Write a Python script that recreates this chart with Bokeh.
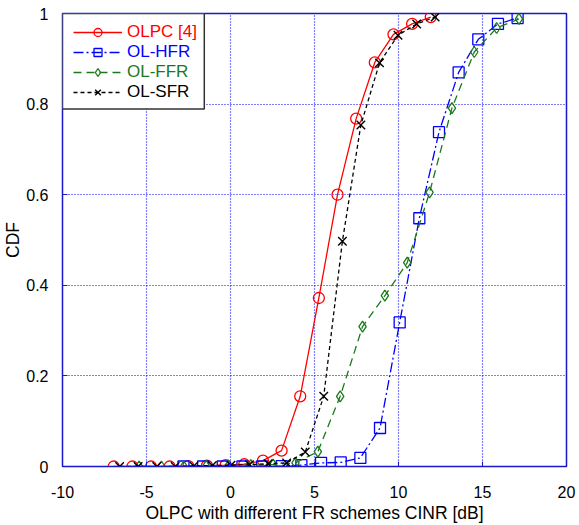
from bokeh.plotting import figure
from bokeh.models import (FixedTicker, Legend, LegendItem, BoxAnnotation, Range1d)
from bokeh.embed import file_html
from bokeh.resources import INLINE

# ---- data ----
olpc_x = [-6.95, -5.84, -4.73, -3.62, -2.51, -1.40, -0.29, 0.82, 1.93, 3.04,
          4.15, 5.26, 6.37, 7.48, 8.59, 9.70, 10.81, 11.92]
olpc_y = [0.0, 0.0, 0.0, 0.0, 0.001, 0.002, 0.003, 0.005, 0.013, 0.035,
          0.155, 0.372, 0.600, 0.768, 0.892, 0.954, 0.977, 0.992]

hfr_x = [-2.80, -1.63, -0.46, 0.71, 1.88, 3.05, 4.22, 5.39, 6.56, 7.73,
         8.90, 10.07, 11.24, 12.41, 13.58, 14.75, 15.92, 17.09]
hfr_y = [0.0, 0.0, 0.0, 0.0, 0.0, 0.001, 0.003, 0.008, 0.009, 0.019,
         0.085, 0.318, 0.548, 0.738, 0.870, 0.943, 0.977, 0.990]

ffr_x = [-5.44, -4.11, -2.78, -1.45, -0.12, 1.21, 2.54, 3.87, 5.20, 6.53,
         7.86, 9.19, 10.52, 11.85, 13.18, 14.51, 15.84, 17.17]
ffr_y = [0.0, 0.0, 0.0, 0.001, 0.002, 0.003, 0.004, 0.008, 0.033, 0.155,
         0.309, 0.377, 0.450, 0.605, 0.791, 0.915, 0.968, 0.988]

sfr_x = [-6.60, -5.50, -4.39, -3.29, -2.18, -1.08, 0.03, 1.13, 2.24, 3.34,
         4.45, 5.55, 6.66, 7.76, 8.87, 9.97, 11.08, 12.18]
sfr_y = [0.0, 0.0, 0.0, 0.0, 0.001, 0.002, 0.003, 0.004, 0.006, 0.008,
         0.032, 0.155, 0.497, 0.754, 0.891, 0.952, 0.977, 0.992]

x_ticks = [-10, -5, 0, 5, 10, 15, 20]
x_tick_labels = ["-10", "-5", "0", "5", "10", "15", "20"]
y_ticks = [0, 0.2, 0.4, 0.6, 0.8, 1]
y_tick_labels = ["0", "0.2", "0.4", "0.6", "0.8", "1"]

series_names = ["OLPC [4]", "OL-HFR", "OL-FFR", "OL-SFR"]

FONT = "Liberation Sans"

p = figure(width=579, height=525, output_backend="svg", toolbar_location=None,
           x_range=Range1d(-10, 20), y_range=Range1d(0, 1),
           min_border_left=61, min_border_right=13, min_border_top=13,
           min_border_bottom=58)
p.background_fill_color = "white"
p.border_fill_color = "white"
p.outline_line_color = "#1818c8"
p.outline_line_width = 1.5

for ax in (p.xaxis[0], p.yaxis[0]):
    ax.axis_line_color = "#1818c8"
    ax.axis_line_width = 1.0
    ax.major_tick_in = 5
    ax.major_tick_out = 0
    ax.minor_tick_in = 0
    ax.minor_tick_out = 0
    ax.major_tick_line_color = "#1818c8"
    ax.major_label_text_font = FONT
    ax.major_label_text_font_size = "16px"
    ax.major_label_text_color = "black"
    ax.axis_label_text_font = FONT
    ax.axis_label_text_font_size = "17.5px"
    ax.axis_label_text_font_style = "normal"
    ax.axis_label_text_color = "black"

p.xaxis.ticker = FixedTicker(ticks=x_ticks)
p.yaxis.ticker = FixedTicker(ticks=y_ticks)
p.xaxis.major_label_overrides = dict(zip(x_ticks, x_tick_labels))
p.yaxis.major_label_overrides = dict(zip(y_ticks, y_tick_labels))
p.xaxis.axis_label = "OLPC with different FR schemes CINR [dB]"
p.yaxis.axis_label = "CDF"
p.xaxis.major_label_standoff = 19
p.xaxis.axis_label_standoff = 2
p.yaxis.major_label_standoff = 14
p.yaxis.axis_label_standoff = 0

for g in (p.xgrid[0], p.ygrid[0]):
    g.grid_line_color = "#0000ff"
    g.grid_line_dash = "1 2"
    g.grid_line_width = 1.2
p.xgrid.ticker = FixedTicker(ticks=x_ticks)
p.ygrid.ticker = FixedTicker(ticks=y_ticks)

RED = "#ff0000"
BLUE = "#0000ff"
GREEN = "#1a7a1a"
BLACK = "#000000"

l1 = p.line(olpc_x, olpc_y, line_color=RED, line_width=1.3)
m1 = p.scatter(olpc_x, olpc_y, marker="circle", size=11, fill_color=None,
               line_color=RED, line_width=1.3)

l2 = p.line(hfr_x, hfr_y, line_color=BLUE, line_width=1.3, line_dash="10 3 2 3")
m2 = p.scatter(hfr_x, hfr_y, marker="square", size=11, fill_color=None,
               line_color=BLUE, line_width=1.3)

l3 = p.line(ffr_x, ffr_y, line_color=GREEN, line_width=1.3, line_dash="8 5")
m3 = p.scatter(ffr_x, ffr_y, marker="diamond", size=11, fill_color=None,
               line_color=GREEN, line_width=1.3)

l4 = p.line(sfr_x, sfr_y, line_color=BLACK, line_width=1.3, line_dash="4 3")
m4 = p.scatter(sfr_x, sfr_y, marker="x", size=12, line_color=BLACK,
               line_width=1.4)

# legend frame
box = BoxAnnotation(left=-10, right=-1.56, bottom=0.789, top=1.0,
                    fill_color="white", fill_alpha=1.0,
                    line_color="#333333", line_width=1.5, line_alpha=1.0)
p.add_layout(box)

frame_h = 454
row_centers = [19.7, 40.0, 59.7, 80.0]
colors = [RED, BLUE, GREEN, BLACK]
rends = [[l1, m1], [l2, m2], [l3, m3], [l4, m4]]
for name, col, rr, rc in zip(series_names, colors, rends, row_centers):
    lg = Legend(items=[LegendItem(label=name, renderers=rr)],
                location=(11, frame_h - rc - 10),
                glyph_width=49, glyph_height=20, label_height=20,
                label_standoff=5, padding=0, margin=0, spacing=0,
                background_fill_alpha=0.0, border_line_alpha=0.0,
                label_text_font=FONT, label_text_font_size="17px",
                label_text_color=col)
    p.add_layout(lg)

open("out.html", "w").write(file_html(p, INLINE))
